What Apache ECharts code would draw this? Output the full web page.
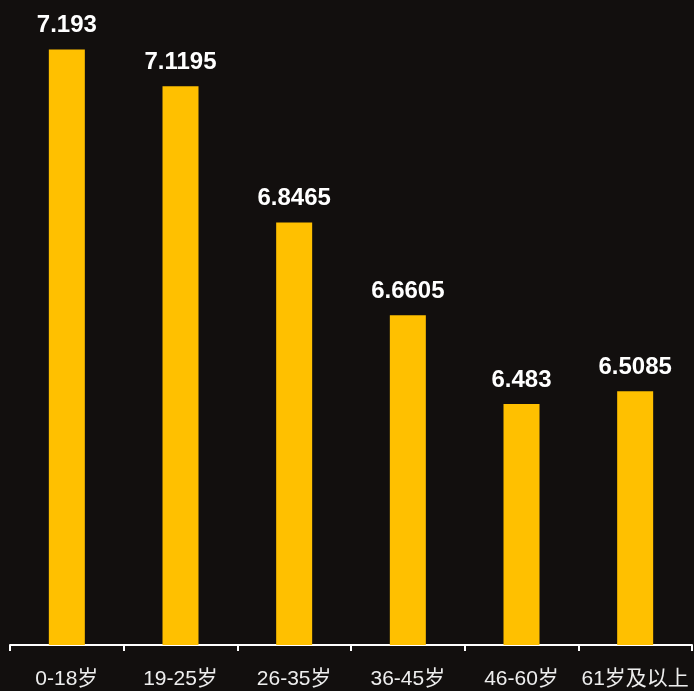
<!DOCTYPE html>
<html><head><meta charset="utf-8">
<script src="https://cdn.jsdelivr.net/npm/echarts@6/dist/echarts.min.js"></script>
<style>html,body{margin:0;padding:0;background:#120f0e;}#c{width:694px;height:691px;}</style>
</head><body><div id="c"></div>
<script>
const categories = ['0-18岁','19-25岁','26-35岁','36-45岁','46-60岁','61岁及以上'];
const values = [7.193, 7.1195, 6.8465, 6.6605, 6.483, 6.5085];
const chart = echarts.init(document.getElementById('c'));
chart.setOption({
  backgroundColor: '#120f0e',
  animation: false,
  grid: {left: 10, right: 2, top: 46, bottom: 46, containLabel: false},
  xAxis: {
    type: 'category', data: categories,
    axisLine: {lineStyle: {color: '#ffffff', width: 2}},
    axisTick: {show: true, length: 6, lineStyle: {color: '#ffffff', width: 2}},
    axisLabel: {color: '#eeeeee', fontSize: 21, margin: 24, fontFamily: 'Liberation Sans, Noto Sans CJK SC, sans-serif', interval: 0}
  },
  yAxis: {
    type: 'value', min: 6, max: 7.2, show: false,
    splitLine: {show: false}
  },
  series: [{
    type: 'bar', data: values, barWidth: 36,
    itemStyle: {color: '#ffc000'},
    label: {show: true, position: 'top', distance: 12, color: '#ffffff', fontWeight: 'bold', fontSize: 24, fontFamily: 'Liberation Sans, Arial, sans-serif'}
  }]
});
</script></body></html>
